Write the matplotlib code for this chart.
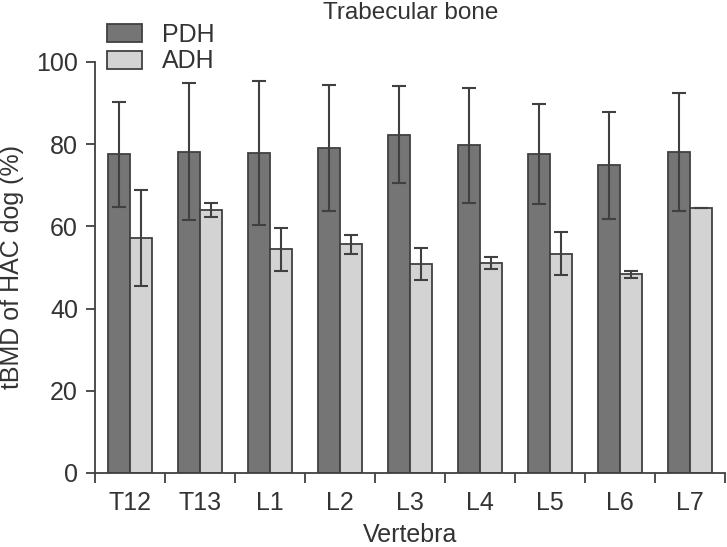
import numpy as np
import matplotlib
matplotlib.use("Agg")
import matplotlib.pyplot as plt

plt.rcParams['font.family'] = ['Liberation Sans', 'DejaVu Sans']

vertebrae = ['T12', 'T13', 'L1', 'L2', 'L3', 'L4', 'L5', 'L6', 'L7']
pdh_mean = [77.5, 78.2, 77.9, 79.1, 82.3, 79.7, 77.6, 74.9, 78.1]
pdh_sd = [12.8, 16.7, 17.5, 15.3, 11.8, 14.0, 12.1, 13.0, 14.3]
adh_mean = [57.2, 64.0, 54.4, 55.6, 50.9, 51.1, 53.4, 48.3, 64.5]
adh_sd = [11.6, 1.6, 5.3, 2.2, 3.9, 1.4, 5.2, 0.75, 0.0]

edge = '#404040'
txt = '#333333'
fs = 18
fig = plt.figure(figsize=(7.27, 5.47), dpi=100)
ax = fig.add_axes([0.131, 0.1353, 0.866, 0.7514])

x = np.arange(len(vertebrae))
w = 0.314
ax.bar(x - w / 2, pdh_mean, w, color='#757575', edgecolor=edge, linewidth=1.3, label='PDH')
ax.bar(x + w / 2, adh_mean, w, color='#d3d3d3', edgecolor=edge, linewidth=1.3, label='ADH')
ax.errorbar(x - w / 2, pdh_mean, yerr=pdh_sd, fmt='none', ecolor=edge, elinewidth=1.5, capsize=5, capthick=1.5)
ax.errorbar(x + w / 2, adh_mean, yerr=adh_sd, fmt='none', ecolor=edge, elinewidth=1.5, capsize=5, capthick=1.5)

ax.set_xlim(-0.5, len(vertebrae) - 0.5)
ax.set_ylim(0, 100)
ax.set_yticks([0, 20, 40, 60, 80, 100])
ax.set_xticks(x)
ax.set_xticklabels(vertebrae)
ax.set_xticks(np.arange(-0.5, len(vertebrae)), minor=True)
ax.tick_params(axis='x', which='major', length=0, pad=13, labelsize=fs, colors=txt)
ax.tick_params(axis='x', which='minor', length=7, width=1.3, color=edge, direction='out')
ax.tick_params(axis='y', length=6.5, width=1.3, color=edge, labelsize=fs, labelcolor=txt, pad=6)
for s in ['top', 'right']:
    ax.spines[s].set_visible(False)
for s in ['left', 'bottom']:
    ax.spines[s].set_color(edge)
    ax.spines[s].set_linewidth(1.3)

ax.set_xlabel('Vertebra', fontsize=fs, color=txt, labelpad=6)
ax.set_ylabel('tBMD of HAC dog (%)', fontsize=fs, color=txt, labelpad=9)

fig.text(0.565, 0.996, 'Trabecular bone', ha='center', va='top', fontsize=17.5, color=txt)
fig.legend(loc='upper left', bbox_to_anchor=(0.147, 0.958), frameon=False, fontsize=fs,
           handlelength=1.4, handleheight=0.72, handletextpad=0.8, labelspacing=0.1,
           borderpad=0, borderaxespad=0, labelcolor=txt)

fig.savefig('out.png', dpi=100)
